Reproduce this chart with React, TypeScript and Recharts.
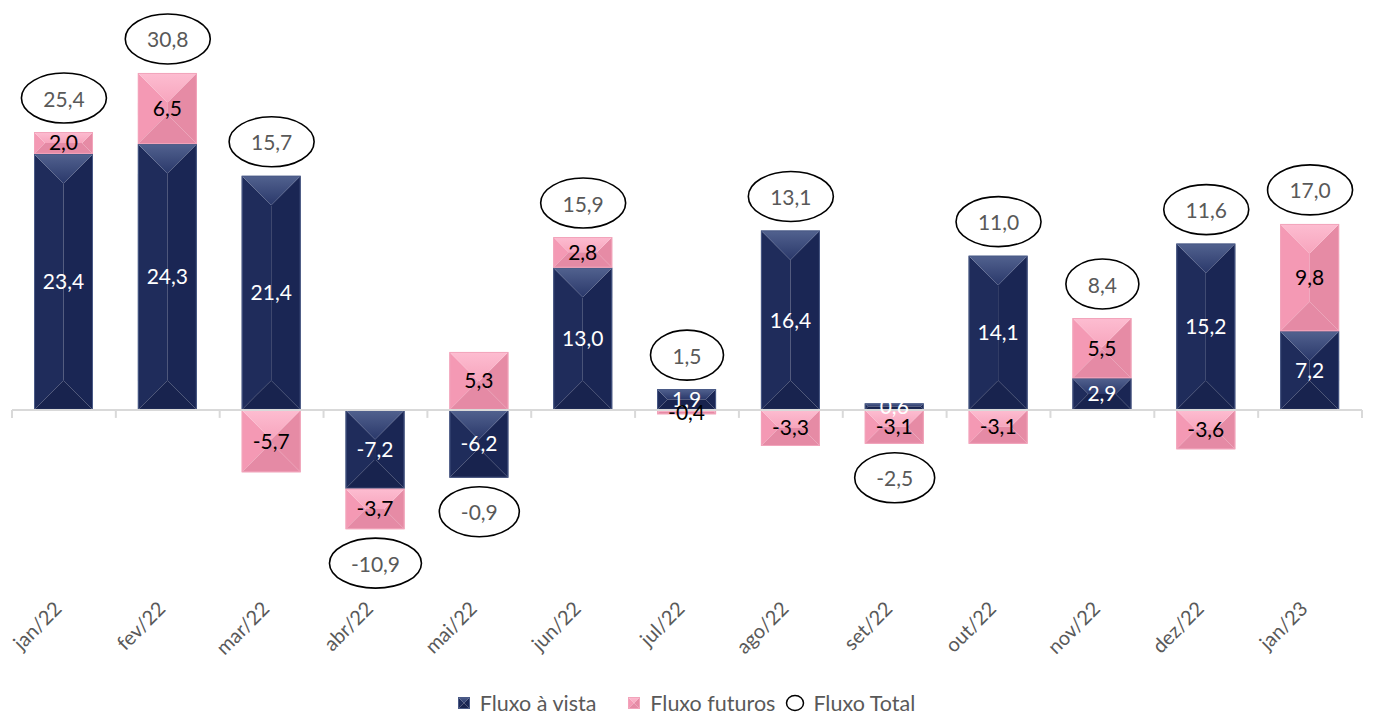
import React from "react";
import {
  ComposedChart,
  Bar,
  Line,
  XAxis,
  YAxis,
  LabelList,
  ReferenceLine,
} from "recharts";

const months = [
  "jan/22", "fev/22", "mar/22", "abr/22", "mai/22", "jun/22", "jul/22",
  "ago/22", "set/22", "out/22", "nov/22", "dez/22", "jan/23",
];
const fluxoVista = [23.4, 24.3, 21.4, -7.2, -6.2, 13.0, 1.9, 16.4, 0.6, 14.1, 2.9, 15.2, 7.2];
const fluxoFuturos = [2.0, 6.5, -5.7, -3.7, 5.3, 2.8, -0.4, -3.3, -3.1, -3.1, 5.5, -3.6, 9.8];
const fluxoTotal = [25.4, 30.8, 15.7, -10.9, -0.9, 15.9, 1.5, 13.1, -2.5, 11.0, 8.4, 11.6, 17.0];

const fmt = (v: any) => Number(v).toFixed(1).replace(".", ",");

// the total bubble hangs off the outer end of the stack (top if positive, bottom if negative)
const data = months.map((month, i) => {
  const parts = [fluxoVista[i], fluxoFuturos[i]];
  const pos = parts.filter((v) => v > 0).reduce((a, b) => a + b, 0);
  const neg = parts.filter((v) => v < 0).reduce((a, b) => a + b, 0);
  return {
    month,
    vista: fluxoVista[i],
    futuros: fluxoFuturos[i],
    total: fluxoTotal[i],
    anchor: fluxoTotal[i] >= 0 ? pos : neg,
  };
});

const NAVY = {
  id: "navy",
  top: ["#52628f", "#2a386a"],
  left: "#1f2c5b",
  right: "#1a2654",
  bottom: "#18234e",
  edge: "#4a5a86",
};
const PINK = {
  id: "pink",
  top: ["#fdbdd1", "#f7a5bd"],
  left: "#f499b4",
  right: "#e68ba5",
  bottom: "#e58aa5",
  edge: "#f2a4bb",
};
const TEXT_GRAY = "#595959";
const AXIS_GRAY = "#d9d9d9";

type Faces = typeof NAVY;

// Excel-like "pyramid" bevel: four faces meeting on a ridge
function pyramid(c: Faces) {
  return (props: any) => {
    let { x, y, width: w, height: h } = props;
    if (h < 0) {
      y += h;
      h = -h;
    }
    if (!w || !h) return <g />;
    const pts = (arr: number[][]) => arr.map((p) => p.join(",")).join(" ");
    let top, bottom, left, right;
    if (h >= w) {
      const p1 = [x + w / 2, y + w / 2];
      const p2 = [x + w / 2, y + h - w / 2];
      top = [[x, y], [x + w, y], p1];
      bottom = [[x, y + h], [x + w, y + h], p2];
      left = [[x, y], p1, p2, [x, y + h]];
      right = [[x + w, y], p1, p2, [x + w, y + h]];
    } else {
      const p1 = [x + h / 2, y + h / 2];
      const p2 = [x + w - h / 2, y + h / 2];
      top = [[x, y], [x + w, y], p2, p1];
      bottom = [[x, y + h], [x + w, y + h], p2, p1];
      left = [[x, y], p1, [x, y + h]];
      right = [[x + w, y], p2, [x + w, y + h]];
    }
    return (
      <g>
        <polygon points={pts(left)} fill={c.left} />
        <polygon points={pts(right)} fill={c.right} />
        <polygon points={pts(top)} fill={`url(#top-${c.id})`} />
        <polygon points={pts(bottom)} fill={c.bottom} />
        <rect x={x + 0.5} y={y + 0.5} width={w - 1} height={h - 1} fill="none" stroke={c.edge} strokeWidth={1} />
      </g>
    );
  };
}

function textWidth(s: string) {
  let wd = 0;
  for (const ch of s) wd += ch === "," ? 5 : ch === "-" ? 7 : 12;
  return wd;
}

function TotalBubble(props: any) {
  const { x, y, value } = props;
  if (x == null || y == null) return null;
  const cy = value >= 0 ? y - 34 : y + 34;
  const label = fmt(value);
  const rx = (textWidth(label) + 44) / 2;
  return (
    <g>
      <ellipse cx={x} cy={cy} rx={rx} ry={25} fill="#fff" stroke="#000" strokeWidth={1.6} />
      <text x={x} y={cy} textAnchor="middle" dominantBaseline="central" fontSize={21} fill={TEXT_GRAY}>
        {label}
      </text>
    </g>
  );
}

function MonthTick(props: any) {
  const { x, y, payload } = props;
  const ax = x - 1;
  const ay = y + 34;
  return (
    <text x={ax} y={ay} transform={`rotate(-45 ${ax} ${ay})`} textAnchor="end" fontSize={20} fill={TEXT_GRAY}>
      {payload.value}
    </text>
  );
}

// zero line acting as the category axis, with boundary tick marks
function ZeroAxis(props: any) {
  const { x1, x2, y1 } = props;
  if (x1 == null) return <g />;
  const step = (x2 - x1) / months.length;
  return (
    <g>
      <line x1={x1} x2={x2} y1={y1} y2={y1} stroke={AXIS_GRAY} strokeWidth={2} />
      {months.concat([""]).map((_, i) => (
        <line key={i} x1={x1 + i * step} x2={x1 + i * step} y1={y1} y2={y1 + 8} stroke={AXIS_GRAY} strokeWidth={2} />
      ))}
    </g>
  );
}

function LegendIcon({ c }: { c: Faces }) {
  return (
    <svg width={12} height={12} style={{ marginRight: 10 }}>
      {pyramid(c)({ x: 0, y: 0, width: 12, height: 12 })}
    </svg>
  );
}

export default function App() {
  return (
    <div style={{ position: "absolute", left: 0, top: 0, width: 1373, height: 714, fontFamily: "Lato", background: "#fff" }}>
      <svg width={0} height={0} style={{ position: "absolute" }}>
        <defs>
          {[NAVY, PINK].map((c) => (
            <linearGradient key={c.id} id={`top-${c.id}`} x1="0" y1="0" x2="0" y2="1">
              <stop offset="0%" stopColor={c.top[0]} />
              <stop offset="100%" stopColor={c.top[1]} />
            </linearGradient>
          ))}
        </defs>
      </svg>
      <ComposedChart
        width={1373}
        height={714}
        data={data}
        stackOffset="sign"
        margin={{ top: 27, right: 11, bottom: 80, left: 12 }}
      >
        <XAxis
          dataKey="month"
          axisLine={false}
          tickLine={false}
          tickSize={0}
          height={60}
          interval={0}
          tick={<MonthTick />}
        />
        <YAxis hide type="number" domain={[-15, 35]} />
        <ReferenceLine y={0} shape={ZeroAxis} ifOverflow="visible" />
        <Bar dataKey="vista" stackId="a" barSize={59} shape={pyramid(NAVY)} isAnimationActive={false}>
          <LabelList dataKey="vista" position="center" formatter={fmt} fill="#ffffff" fontSize={21} />
        </Bar>
        <Bar dataKey="futuros" stackId="a" barSize={59} shape={pyramid(PINK)} isAnimationActive={false}>
          <LabelList dataKey="futuros" position="center" formatter={fmt} fill="#000000" fontSize={21} />
        </Bar>
        <Line dataKey="anchor" stroke="none" dot={false} activeDot={false} legendType="none" isAnimationActive={false}>
          <LabelList dataKey="total" content={TotalBubble} />
        </Line>
      </ComposedChart>
      <div
        style={{
          position: "absolute",
          top: 691,
          left: 0,
          width: 1373,
          display: "flex",
          justifyContent: "center",
          alignItems: "center",
          fontSize: 21.5,
          color: TEXT_GRAY,
          lineHeight: "24px",
        }}
      >
        <LegendIcon c={NAVY} />
        <span style={{ marginRight: 32 }}>Fluxo à vista</span>
        <LegendIcon c={PINK} />
        <span style={{ marginRight: 10 }}>Fluxo futuros</span>
        <svg width={20} height={18} style={{ marginRight: 8 }}>
          <ellipse cx={10} cy={9} rx={8.5} ry={7.5} fill="#fff" stroke="#000" strokeWidth={1.5} />
        </svg>
        <span>Fluxo Total</span>
      </div>
    </div>
  );
}
